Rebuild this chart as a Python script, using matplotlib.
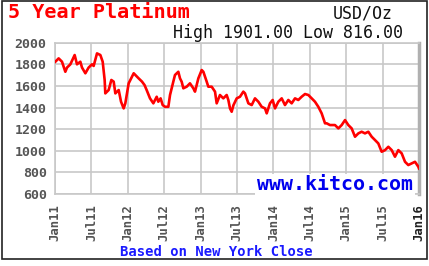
import matplotlib
matplotlib.use("Agg")
import matplotlib.pyplot as plt
from matplotlib.patches import Rectangle

# Decimal-year positions and platinum prices (USD/oz)
years = [2011.005, 2011.050, 2011.096, 2011.142, 2011.165, 2011.211, 2011.270, 2011.302,
         2011.348, 2011.371, 2011.417, 2011.462, 2011.508, 2011.531, 2011.577, 2011.623,
         2011.655, 2011.682, 2011.691, 2011.737, 2011.774, 2011.806, 2011.829, 2011.875,
         2011.907, 2011.943, 2011.966, 2012.012, 2012.081, 2012.149, 2012.195, 2012.230,
         2012.259, 2012.305, 2012.351, 2012.397, 2012.419, 2012.451, 2012.479, 2012.511,
         2012.557, 2012.580, 2012.625, 2012.648, 2012.694, 2012.717, 2012.740, 2012.763,
         2012.809, 2012.854, 2012.900, 2012.923, 2012.946, 2012.969, 2013.015, 2013.038,
         2013.084, 2013.106, 2013.152, 2013.198, 2013.221, 2013.266, 2013.312, 2013.358,
         2013.381, 2013.404, 2013.427, 2013.450, 2013.496, 2013.541, 2013.587, 2013.610,
         2013.656, 2013.702, 2013.747, 2013.793, 2013.839, 2013.885, 2013.908, 2013.953,
         2013.990, 2014.022, 2014.068, 2014.114, 2014.159, 2014.205, 2014.251, 2014.297,
         2014.342, 2014.388, 2014.434, 2014.480, 2014.526, 2014.571, 2014.617, 2014.663,
         2014.686, 2014.709, 2014.732, 2014.777, 2014.846, 2014.892, 2014.938, 2014.984,
         2015.029, 2015.075, 2015.121, 2015.167, 2015.212, 2015.258, 2015.304, 2015.350,
         2015.396, 2015.441, 2015.487, 2015.533, 2015.579, 2015.625, 2015.670, 2015.716,
         2015.762, 2015.808, 2015.853, 2015.899, 2015.945, 2015.991, 2016.000]
prices = [1824, 1855, 1824, 1731, 1770, 1800, 1886, 1800,
          1824, 1770, 1717, 1770, 1800, 1785, 1901, 1886,
          1824, 1655, 1531, 1562, 1655, 1640, 1531, 1562,
          1454, 1392, 1439, 1624, 1717, 1670, 1640, 1608,
          1562, 1485, 1439, 1500, 1454, 1485, 1423, 1407,
          1407, 1516, 1639, 1701, 1731, 1670, 1639, 1578,
          1593, 1624, 1578, 1547, 1608, 1670, 1747, 1731,
          1639, 1593, 1593, 1547, 1439, 1516, 1485, 1516,
          1470, 1392, 1361, 1420, 1485, 1500, 1547, 1531,
          1439, 1423, 1485, 1454, 1407, 1392, 1346, 1439,
          1470, 1392, 1454, 1485, 1423, 1470, 1439, 1485,
          1470, 1500, 1525, 1516, 1485, 1454, 1407, 1346,
          1300, 1254, 1254, 1238, 1238, 1207, 1238, 1284,
          1238, 1207, 1130, 1161, 1176, 1161, 1176, 1130,
          1099, 1068, 991, 1006, 1037, 1006, 945, 1006,
          976, 898, 868, 883, 898, 852, 837]

x_ticks = [2011.0, 2011.5, 2012.0, 2012.5, 2013.0, 2013.5, 2014.0, 2014.5,
           2015.0, 2015.5, 2016.0]
x_labels = ["Jan11", "Jul11", "Jan12", "Jul12", "Jan13", "Jul13", "Jan14", "Jul14",
            "Jan15", "Jul15", "Jan16"]
y_ticks = [600, 800, 1000, 1200, 1400, 1600, 1800, 2000]

W, H = 429, 266
fig = plt.figure(figsize=(W / 100, H / 100), dpi=100)
fig.patch.set_facecolor("white")

# outer frame
fig.patches.append(Rectangle((2 / W, 1 - 259 / H), 425 / W, 258 / H,
                             transform=fig.transFigure, fill=False,
                             edgecolor="#222222", linewidth=1.2))

left, right, top, bottom = 55, 419, 42.7, 194
ax = fig.add_axes([left / W, 1 - bottom / H, (right - left) / W, (bottom - top) / H])
ax.set_xlim(2011.0, 2016.0)
ax.set_ylim(600, 2000)
ax.plot(years, prices, color="#ff0000", linewidth=1.9, zorder=3)

mono = "DejaVu Sans Mono"
ax.set_xticks(x_ticks)
ax.set_xticklabels(x_labels, rotation=90, family=mono,
                   fontsize=8.8, color="#555555", fontweight="bold")
ax.get_xticklabels()[-1].set_color("#222222")
ax.set_yticks(y_ticks)
ax.set_yticklabels([str(v) for v in y_ticks], family=mono,
                   fontsize=9.5, color="#555555", fontweight="bold")
ax.tick_params(axis="y", length=0, pad=6)
ax.tick_params(axis="x", length=0, pad=7)
ax.grid(True, color="#c8c8c8", linewidth=1.2)
ax.set_axisbelow(True)
for s in ax.spines.values():
    s.set_color("#c8c8c8")
    s.set_linewidth(1.2)
ax.spines["right"].set_color("#b0b0b0")
ax.spines["right"].set_linewidth(2.5)

fig.text(8 / W, 1 - 12 / H, "5 Year Platinum", color="#ff0000", fontsize=14.5,
         family=mono, fontweight="bold", va="center", ha="left")
fig.text(393 / W, 1 - 14 / H, "USD/Oz", color="#111111", fontsize=12,
         family=mono, va="center", ha="right")
fig.text(403 / W, 1 - 33 / H, "High 1901.00 Low 816.00", color="#111111",
         fontsize=12, family=mono, va="center", ha="right")
fig.text(413 / W, 1 - 185 / H, "www.kitco.com", color="#0000ee", fontsize=14.3,
         family=mono, fontweight="bold", va="center", ha="right",
         bbox=dict(facecolor="white", edgecolor="none", pad=1.5))
fig.text(120 / W, 1 - 252 / H, "Based on New York Close", color="#1a1aff",
         fontsize=10, family=mono, fontweight="bold", va="center", ha="left")

fig.savefig("out.png", dpi=100)
